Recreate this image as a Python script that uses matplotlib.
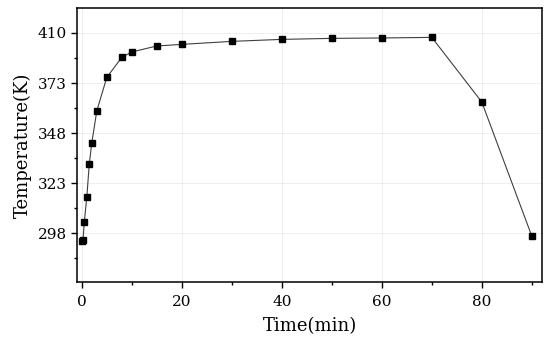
import numpy as np
import matplotlib
matplotlib.use("Agg")
import matplotlib.pyplot as plt
from matplotlib.ticker import MultipleLocator, FixedLocator

# data
tiempo = [0, 0.25, 0.5, 1, 1.5, 2, 3, 5, 8, 10, 15, 20, 30, 40, 50, 60, 70, 80, 90]
temperatura = [294.0, 294.5, 303.5, 315.8, 332.5, 343.0, 359.0, 375.8, 385.8, 388.5,
               391.5, 392.3, 393.8, 394.8, 395.3, 395.5, 395.8, 363.5, 296.5]
# y ticks (last label in the original reads 410)
yticks = [298, 323, 348, 373, 398]
ylabels = ['298', '323', '348', '373', '410']
xticks = [0, 20, 40, 60, 80]

plt.rcParams['font.family'] = ['DejaVu Serif']

fig = plt.figure(figsize=(5.5, 3.46), dpi=100)
ax = fig.add_axes([0.1405, 0.184, 0.8455, 0.793])

ax.plot(tiempo, temperatura, '-', color='#404040', lw=0.8,
        marker='s', markersize=5, markerfacecolor='black', markeredgecolor='black')

ax.set_xlim(-0.9, 92.1)
ax.set_ylim(273.4, 410.5)
ax.xaxis.set_major_locator(FixedLocator(xticks))
ax.xaxis.set_minor_locator(MultipleLocator(10))
ax.yaxis.set_major_locator(FixedLocator(yticks))
ax.set_yticklabels(ylabels)
ax.yaxis.set_minor_locator(FixedLocator([285.5, 310.5, 335.5, 360.5, 385.5]))

ax.grid(True, which='major', color='#ebebeb', lw=0.6)
ax.set_axisbelow(True)
ax.tick_params(which='major', direction='out', length=4, width=1, labelsize=11)
ax.tick_params(axis='x', which='major', pad=5)
ax.tick_params(which='minor', direction='out', length=2.5, width=1)
for s in ax.spines.values():
    s.set_linewidth(1.1)

ax.set_xlabel('Time(min)', fontsize=13, labelpad=6)
ax.set_ylabel('Temperature(K)', fontsize=13, labelpad=4)

fig.savefig('out.png', dpi=100)
